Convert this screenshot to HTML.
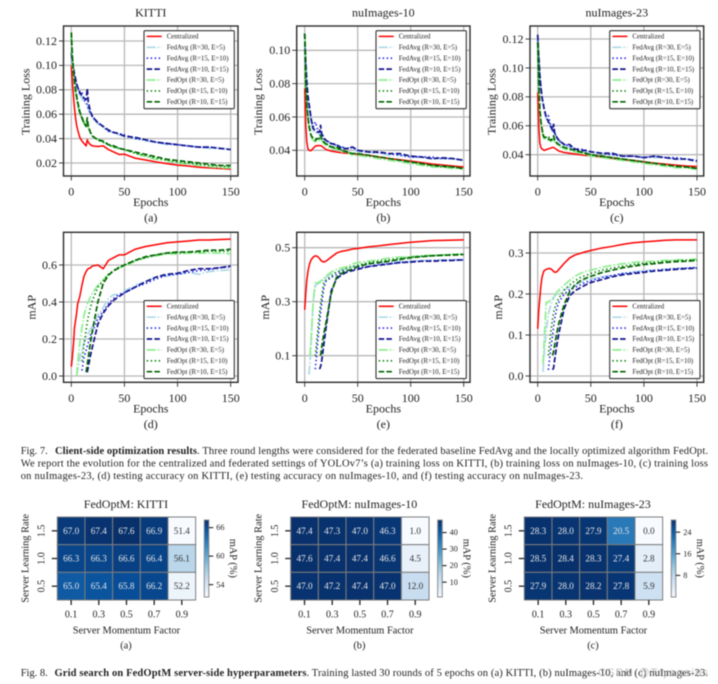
<!DOCTYPE html>
<html>
<head>
<meta charset="utf-8">
<title>Federated optimization results</title>
<style>
html,body{margin:0;padding:0;background:#fff;width:718px;height:684px;overflow:hidden}
svg{display:block;filter:blur(0.4px)}
text{font-family:"Liberation Serif","Noto Serif CJK SC",serif;fill:#222}
</style>
</head>
<body>
<svg id="fig" xmlns="http://www.w3.org/2000/svg" width="718" height="684" viewBox="0 0 718 684">
<rect width="718" height="684" fill="#fff"/>
<g id="charts"></g>
<g id="heatmaps"></g>
<g font-size="10.5">
<text x="20.7" y="454" textLength="27">Fig. 7.</text>
<text x="55" y="454" font-weight="bold" textLength="142">Client-side optimization results</text>
<text x="197" y="454" textLength="511">. Three round lengths were considered for the federated baseline FedAvg and the locally optimized algorithm FedOpt.</text>
<text x="20.7" y="466.5" textLength="687.3">We report the evolution for the centralized and federated settings of YOLOv7’s (a) training loss on KITTI, (b) training loss on nuImages-10, (c) training loss</text>
<text x="20.7" y="478.8" textLength="562.3">on nuImages-23, (d) testing accuracy on KITTI, (e) testing accuracy on nuImages-10, and (f) testing accuracy on nuImages-23.</text>
</g>
<g font-size="10.5">
<text x="20.7" y="676" textLength="27">Fig. 8.</text>
<text x="54.5" y="676" font-weight="bold" textLength="252">Grid search on FedOptM server-side hyperparameters</text>
<text x="306.5" y="676" textLength="401.5">. Training lasted 30 rounds of 5 epochs on (a) KITTI, (b) nuImages-10, and (c) nuImages-23.</text>
<text x="598" y="676" font-size="11" style="fill:#a8a8a8;opacity:.7;font-family:'Liberation Sans',sans-serif" textLength="110">CSDN @Tryagains</text>
</g>
</svg>
<script>
// ---------- shared x axis samples and legend ----------
const epochs = [0,1,2,3,4,5,6,8,10,12,14,15,16,18,20,25,30,35,40,45,50,60,70,80,90,100,110,120,130,140,150];
const seriesLabels = ['Centralized','FedAvg (R=30, E=5)','FedAvg (R=15, E=10)','FedAvg (R=10, E=15)','FedOpt (R=30, E=5)','FedOpt (R=15, E=10)','FedOpt (R=10, E=15)'];
const xTicks = [0,50,100,150];

// ---------- training loss: KITTI ----------
const lossKittiCentral = [.100,.087,.075,.065,.057,.051,.047,.041,.038,.036,.034,.039,.037,.035,.034,.0335,.034,.031,.029,.027,.0272,.024,.0225,.0208,.0195,.0183,.0175,.0165,.016,.0155,.015];
const lossKittiAvg30 = [.112,.100,.095,.090,.086,.083,.080,.076,.073,.070,.068,.067,.064,.060,.057,.052,.049,.046,.045,.043,.042,.040,.038,.037,.035,.035,.034,.033,.032,.032,.031];
const lossKittiAvg15 = [.110,.102,.097,.092,.088,.085,.082,.077,.078,.072,.069,.068,.065,.061,.058,.053,.050,.046,.045,.044,.043,.040,.039,.037,.036,.035,.034,.033,.033,.032,.031];
const lossKittiAvg10 = [.110,.105,.098,.093,.089,.085,.082,.078,.075,.073,.072,.081,.070,.062,.058,.053,.050,.047,.045,.044,.042,.041,.039,.037,.036,.035,.034,.033,.033,.032,.031];
const lossKittiOpt30 = [.127,.105,.093,.085,.078,.073,.068,.060,.056,.052,.050,.052,.049,.045,.042,.039,.037,.035,.033,.032,.031,.028,.025,.023,.022,.020,.019,.018,.017,.016,.016];
const lossKittiOpt15 = [.125,.106,.094,.086,.079,.074,.069,.061,.058,.053,.050,.053,.050,.045,.042,.039,.037,.035,.033,.032,.031,.028,.026,.024,.0225,.021,.020,.019,.018,.0175,.017];
const lossKittiOpt10 = [.127,.107,.095,.087,.080,.075,.070,.062,.057,.053,.050,.057,.050,.045,.042,.039,.038,.035,.034,.032,.031,.029,.027,.025,.023,.022,.021,.020,.019,.018,.018];

// ---------- training loss: nuImages-10 ----------
const lossNu10Central = [.077,.055,.045,.041,.040,.0398,.0398,.0412,.0425,.0428,.0428,.0428,.0425,.0415,.0405,.0395,.039,.0385,.0382,.038,.0375,.037,.036,.035,.0343,.0335,.0327,.0318,.0312,.0306,.030];
const lossNu10Avg30 = [.108,.090,.078,.070,.065,.062,.057,.052,.050,.051,.049,.050,.049,.047,.046,.044,.043,.042,.041,.041,.039,.039,.0385,.037,.037,.036,.036,.035,.035,.035,.034];
const lossNu10Avg15 = [.109,.092,.080,.072,.067,.063,.059,.054,.057,.053,.051,.052,.050,.048,.046,.044,.043,.042,.041,.042,.040,.039,.0385,.038,.037,.036,.036,.036,.035,.035,.034];
const lossNu10Avg10 = [.110,.093,.081,.073,.068,.064,.059,.053,.052,.051,.051,.055,.050,.047,.046,.044,.0435,.041,.041,.042,.040,.039,.039,.038,.038,.0365,.036,.035,.0355,.035,.034];
const lossNu10Opt30 = [.109,.078,.065,.059,.054,.051,.048,.046,.045,.046,.046,.047,.046,.044,.043,.041,.041,.039,.039,.037,.037,.036,.035,.034,.033,.032,.031,.030,.030,.029,.029];
const lossNu10Opt15 = [.110,.079,.066,.060,.055,.052,.049,.047,.047,.047,.047,.048,.047,.045,.044,.042,.041,.040,.039,.038,.038,.037,.036,.035,.034,.033,.032,.031,.030,.030,.029];
const lossNu10Opt10 = [.110,.080,.067,.060,.055,.052,.049,.047,.046,.047,.047,.049,.047,.045,.044,.042,.042,.040,.039,.038,.038,.037,.036,.035,.034,.033,.032,.031,.0305,.030,.029];

// ---------- training loss: nuImages-23 ----------
const lossNu23Central = [.083,.060,.048,.045,.044,.0435,.043,.0435,.044,.0445,.045,.045,.0445,.0435,.0425,.0415,.041,.0405,.040,.0395,.039,.0385,.0375,.0365,.036,.035,.0342,.0335,.0328,.0322,.0318];
const lossNu23Avg30 = [.120,.105,.093,.085,.079,.075,.071,.065,.062,.059,.056,.055,.054,.051,.049,.047,.045,.044,.043,.042,.042,.041,.040,.039,.039,.038,.038,.038,.037,.037,.036];
const lossNu23Avg15 = [.122,.107,.094,.086,.080,.076,.072,.066,.067,.061,.058,.056,.055,.052,.050,.047,.046,.044,.044,.043,.042,.041,.040,.039,.039,.038,.039,.038,.038,.037,.036];
const lossNu23Avg10 = [.123,.108,.095,.087,.080,.076,.072,.066,.063,.060,.057,.061,.055,.052,.050,.047,.047,.044,.043,.043,.042,.041,.041,.039,.039,.038,.039,.038,.037,.037,.0355];
const lossNu23Opt30 = [.116,.088,.070,.062,.057,.053,.051,.051,.050,.049,.050,.051,.049,.047,.046,.044,.043,.042,.041,.040,.039,.038,.037,.036,.035,.034,.033,.032,.031,.031,.030];
const lossNu23Opt15 = [.117,.089,.071,.063,.058,.054,.052,.052,.053,.050,.050,.051,.050,.048,.047,.045,.044,.043,.042,.041,.040,.039,.038,.037,.036,.035,.034,.033,.032,.0315,.0305];
const lossNu23Opt10 = [.118,.090,.072,.063,.058,.054,.052,.052,.051,.050,.051,.053,.050,.048,.047,.045,.044,.043,.042,.041,.040,.039,.038,.037,.036,.035,.034,.033,.032,.0315,.0305];

// ---------- mAP: KITTI ----------
const mapKittiCentral = [.05,.10,.17,.26,.30,.34,.39,.43,.49,.54,.565,.575,.58,.585,.595,.60,.58,.625,.64,.655,.655,.685,.70,.71,.72,.725,.73,.735,.735,.738,.74];
const mapKittiAvg30 = [null,null,null,null,null,.00,.03,.10,.14,.18,.21,.22,.23,.255,.27,.33,.37,.42,.44,.44,.46,.49,.51,.535,.54,.55,.56,.55,.565,.57,.575];
const mapKittiAvg15 = [null,null,null,null,null,null,null,null,.03,.10,.14,.16,.18,.22,.24,.31,.35,.39,.42,.44,.45,.48,.50,.525,.545,.55,.56,.57,.575,.585,.59];
const mapKittiAvg10 = [null,null,null,null,null,null,null,null,null,null,null,.02,.05,.11,.16,.28,.34,.38,.41,.43,.45,.48,.51,.535,.55,.555,.57,.58,.58,.585,.595];
const mapKittiOpt30 = [null,null,null,null,null,.00,.07,.18,.26,.33,.37,.39,.40,.43,.45,.49,.52,.55,.57,.585,.595,.62,.64,.65,.66,.66,.665,.665,.665,.665,.66];
const mapKittiOpt15 = [null,null,null,null,null,null,null,null,.08,.17,.25,.29,.32,.37,.41,.48,.515,.55,.57,.59,.60,.625,.64,.655,.665,.665,.67,.67,.675,.675,.675];
const mapKittiOpt10 = [null,null,null,null,null,null,null,null,null,null,.02,.06,.10,.18,.25,.40,.50,.545,.57,.585,.60,.625,.645,.655,.665,.67,.67,.675,.68,.68,.685];

// ---------- mAP: nuImages-10 ----------
const mapNu10Central = [.27,.33,.38,.41,.43,.445,.455,.465,.47,.468,.46,.455,.45,.447,.45,.465,.48,.487,.49,.495,.497,.503,.507,.512,.516,.52,.523,.526,.527,.528,.529];
const mapNu10Avg30 = [null,null,null,null,.03,.08,.14,.30,.36,.365,.37,.372,.375,.38,.39,.405,.41,.418,.422,.43,.432,.44,.445,.447,.45,.451,.452,.453,.455,.455,.456];
const mapNu10Avg15 = [null,null,null,null,null,null,null,null,.05,.14,.22,.26,.29,.35,.375,.39,.40,.41,.415,.42,.425,.43,.438,.44,.445,.447,.45,.452,.453,.454,.455];
const mapNu10Avg10 = [null,null,null,null,null,null,null,null,null,null,.05,.06,.08,.14,.20,.34,.385,.40,.41,.415,.42,.43,.435,.44,.445,.447,.45,.45,.452,.453,.455];
const mapNu10Opt30 = [null,null,null,null,null,.10,.16,.30,.37,.37,.375,.375,.38,.385,.395,.41,.42,.425,.43,.44,.445,.45,.455,.462,.465,.467,.47,.472,.473,.475,.476];
const mapNu10Opt15 = [null,null,null,null,null,null,null,null,.10,.18,.26,.29,.32,.37,.38,.395,.41,.415,.425,.43,.435,.445,.45,.455,.46,.465,.468,.47,.472,.475,.476];
const mapNu10Opt10 = [null,null,null,null,null,null,null,null,null,null,null,.10,.13,.18,.22,.33,.39,.405,.415,.42,.43,.44,.445,.45,.457,.463,.467,.47,.472,.473,.475];

// ---------- mAP: nuImages-23 ----------
const mapNu23Central = [.115,.16,.19,.22,.24,.25,.257,.26,.262,.262,.258,.255,.253,.254,.26,.275,.288,.295,.299,.303,.306,.312,.316,.321,.325,.327,.329,.331,.332,.332,.332];
const mapNu23Avg30 = [null,null,null,null,null,.01,.05,.11,.15,.17,.185,.19,.195,.20,.205,.21,.217,.222,.228,.232,.236,.242,.245,.25,.254,.257,.258,.26,.262,.263,.264];
const mapNu23Avg15 = [null,null,null,null,null,null,null,null,.015,.06,.10,.12,.14,.165,.18,.20,.21,.216,.222,.228,.232,.24,.245,.25,.252,.255,.258,.26,.262,.263,.265];
const mapNu23Avg10 = [null,null,null,null,null,null,null,null,null,null,.015,.02,.04,.075,.105,.165,.195,.208,.215,.222,.228,.235,.242,.247,.25,.253,.256,.258,.26,.262,.263];
const mapNu23Opt30 = [null,null,null,null,null,.03,.08,.18,.18,.185,.19,.195,.197,.205,.21,.222,.233,.243,.25,.255,.258,.265,.27,.274,.277,.279,.28,.282,.283,.284,.285];
const mapNu23Opt15 = [null,null,null,null,null,null,null,null,.05,.10,.14,.155,.165,.18,.19,.21,.222,.232,.24,.245,.25,.258,.263,.268,.272,.275,.277,.279,.281,.282,.283];
const mapNu23Opt10 = [null,null,null,null,null,null,null,null,null,null,.05,.06,.075,.105,.13,.175,.205,.222,.232,.238,.243,.252,.258,.264,.268,.272,.274,.277,.279,.28,.282];

// ---------- y tick labels ----------
const lossKittiTicks = [.02,.04,.06,.08,.10,.12];
const lossNu10Ticks = [.04,.06,.08,.10];
const lossNu23Ticks = [.04,.06,.08,.10,.12];
const mapKittiTicks = [0,.2,.4,.6];
const mapNu10Ticks = [.1,.3,.5];
const mapNu23Ticks = [0,.1,.2,.3];

// ---------- heatmap values ----------
const gridMomentum = ['0.1','0.3','0.5','0.7','0.9'];
const gridLearningRate = ['1.5','1.0','0.5'];
const gridKitti = [[67.0,67.4,67.6,66.9,51.4],[66.3,66.3,66.6,66.4,56.1],[65.0,65.4,65.8,66.2,52.2]];
const gridNu10 = [[47.4,47.3,47.0,46.3,1.0],[47.6,47.4,47.4,46.6,4.5],[47.0,47.2,47.4,47.0,12.0]];
const gridNu23 = [[28.3,28.0,27.9,20.5,0.0],[28.5,28.4,28.3,27.4,2.8],[27.9,28.0,28.2,27.8,5.9]];
const cbarKittiTicks = [66,60,54];
const cbarNu10Ticks = [40,30,20,10];
const cbarNu23Ticks = [24,16,8];

// ---------- styling & layout (not data) ----------
const seriesColors = ['#ff0000','#add8e6','#1a1ae6','#12128c','#90ee90','#008000','#006400'];
const seriesDash = ['','9 2 1.5 2','1.4 2.6','5.5 2.2','9 2 1.5 2','1.4 2.6','5.5 2.2'];
const seriesWidth = [1.5,1.7,1.6,1.7,1.7,1.6,1.7];
const seriesKeys = ['centralized','fedavg-r30','fedavg-r15','fedavg-r10','fedopt-r30','fedopt-r15','fedopt-r10'];
const columns = [
  {l:63.5,r:238,x0:71.3,x150:230.7,yLab:25.7,mapLab:31.7},
  {l:296.7,r:470,x0:304.7,x150:463.7,yLab:258,mapLab:265},
  {l:530,r:703.7,x0:537.7,x150:697,yLab:491.7,mapLab:498}
];
const NS = 'http://www.w3.org/2000/svg';
function node(parent, tag, attrs, str){
  const el = document.createElementNS(NS, tag);
  for (const k in attrs) el.setAttribute(k, attrs[k]);
  if (str !== undefined) el.textContent = str;
  parent.appendChild(el);
  return el;
}
function label(parent, name, x, y, size, str, anchor, rot){
  const attrs = {x:x, y:y + size*0.32, 'font-size':size, 'text-anchor':anchor||'middle'};
  if (rot) attrs.transform = 'rotate(' + rot + ' ' + x + ' ' + y + ')';
  const el = node(parent, 'text', attrs, str);
  
  
  return el;
}
function segment(parent, name, x1, y1, x2, y2, color, width){
  const el = node(parent, 'line', {x1:x1,y1:y1,x2:x2,y2:y2,stroke:color,'stroke-width':width});
  
  
  return el;
}
function lineChart(opts){
  const root = document.getElementById('charts');
  const g = node(root, 'g', {});
  
  
  const c = columns[opts.col];
  const t = opts.top, b = opts.top + 150;
  const xScale = v => c.x0 + (v/150)*(c.x150 - c.x0);
  const yScale = v => opts.py1 + (v - opts.v1)*(opts.py2 - opts.py1)/(opts.v2 - opts.v1);
  const frameBack = node(g, 'rect', {x:c.l,y:t,width:c.r-c.l,height:150,fill:'#fff'});
  
  
  xTicks.forEach(v => {
    segment(g, 'x-gridline', xScale(v), t, xScale(v), b, '#b8b8b8', 1.3);
    segment(g, 'x-tick', xScale(v), b, xScale(v), b+4.5, '#2b2b2b', 0.9);
    label(g, 'x-tick-label', xScale(v), b+15.7, 12, String(v));
  });
  opts.ticks.forEach(v => {
    segment(g, 'y-gridline', c.l, yScale(v), c.r, yScale(v), '#b8b8b8', 1.3);
    segment(g, 'y-tick', c.l-4.5, yScale(v), c.l, yScale(v), '#2b2b2b', 0.9);
    label(g, 'y-tick-label', c.l-6.5, yScale(v), 12, v.toFixed(opts.digits), 'end');
  });
  opts.series.forEach((vals, i) => {
    let d = '';
    vals.forEach((v, j) => {
      if (v === null) return;
      d += (d ? 'L' : 'M') + xScale(epochs[j]).toFixed(2) + ' ' + yScale(v).toFixed(2);
    });
    const p = node(g, 'path', {d:d,fill:'none',stroke:seriesColors[i],'stroke-width':seriesWidth[i],'stroke-dasharray':seriesDash[i],'stroke-linejoin':'round'});
    
    
  });
  const frame = node(g, 'rect', {x:c.l,y:t,width:c.r-c.l,height:150,fill:'none',stroke:'#2b2b2b','stroke-width':1.4});
  
  
  // legend
  const lw = 90.3, lh = 78;
  const lx = c.r - 3.7 - lw;
  const ly = opts.legendTop ? t + 4.7 : b - 3.7 - lh;
  const lg = node(g, 'g', {});
  
  
  const box = node(lg, 'rect', {x:lx,y:ly,width:lw,height:lh,rx:1,fill:'#fff',stroke:'#333','stroke-width':1.1});
  
  
  seriesLabels.forEach((s, i) => {
    const ry = ly + 5.7 + i*10.9;
    const h = node(lg, 'line', {x1:lx+2.7,y1:ry,x2:lx+17.7,y2:ry,stroke:seriesColors[i],'stroke-width':seriesWidth[i],'stroke-dasharray':seriesDash[i]});
    
    
    label(lg, 'legend-entry', lx+22.7, ry, 6.9, s, 'start');
  });
  if (opts.title) label(g, 'chart-title', (c.l+c.r)/2, 12.7, 12, opts.title);
  label(g, 'x-axis-title', (c.l+c.r)/2, b+26.2, 12, 'Epochs');
  label(g, 'panel-letter', (c.l+c.r)/2, b+41.8, 12, opts.letter);
  const yx = opts.yLabel === 'mAP' ? c.mapLab : c.yLab;
  label(g, 'y-axis-title', yx, t + 75 + (opts.yLabel === 'mAP' ? 0 : 0.7), 12, opts.yLabel, 'middle', -90);
}
lineChart({key:'loss-kitti',col:0,top:26,title:'KITTI',letter:'(a)',yLabel:'Training Loss',v1:.12,py1:41,v2:.02,py2:163,ticks:lossKittiTicks,digits:2,legendTop:true,
  series:[lossKittiCentral,lossKittiAvg30,lossKittiAvg15,lossKittiAvg10,lossKittiOpt30,lossKittiOpt15,lossKittiOpt10]});
lineChart({key:'loss-nuimages-10',col:1,top:26,title:'nuImages-10',letter:'(b)',yLabel:'Training Loss',v1:.10,py1:50.3,v2:.04,py2:150.3,ticks:lossNu10Ticks,digits:2,legendTop:true,
  series:[lossNu10Central,lossNu10Avg30,lossNu10Avg15,lossNu10Avg10,lossNu10Opt30,lossNu10Opt15,lossNu10Opt10]});
lineChart({key:'loss-nuimages-23',col:2,top:26,title:'nuImages-23',letter:'(c)',yLabel:'Training Loss',v1:.12,py1:39,v2:.04,py2:154.7,ticks:lossNu23Ticks,digits:2,legendTop:true,
  series:[lossNu23Central,lossNu23Avg30,lossNu23Avg15,lossNu23Avg10,lossNu23Opt30,lossNu23Opt15,lossNu23Opt10]});
lineChart({key:'map-kitti',col:0,top:232.3,title:'',letter:'(d)',yLabel:'mAP',v1:.6,py1:265,v2:0,py2:376,ticks:mapKittiTicks,digits:1,legendTop:false,
  series:[mapKittiCentral,mapKittiAvg30,mapKittiAvg15,mapKittiAvg10,mapKittiOpt30,mapKittiOpt15,mapKittiOpt10]});
lineChart({key:'map-nuimages-10',col:1,top:232.3,title:'',letter:'(e)',yLabel:'mAP',v1:.5,py1:247.7,v2:.1,py2:355.7,ticks:mapNu10Ticks,digits:1,legendTop:false,
  series:[mapNu10Central,mapNu10Avg30,mapNu10Avg15,mapNu10Avg10,mapNu10Opt30,mapNu10Opt15,mapNu10Opt10]});
lineChart({key:'map-nuimages-23',col:2,top:232.3,title:'',letter:'(f)',yLabel:'mAP',v1:.3,py1:253,v2:0,py2:376,ticks:mapNu23Ticks,digits:1,legendTop:false,
  series:[mapNu23Central,mapNu23Avg30,mapNu23Avg15,mapNu23Avg10,mapNu23Opt30,mapNu23Opt15,mapNu23Opt10]});

// ---------- heatmaps ----------
const bluesStops = [[247,251,255],[222,235,247],[198,219,239],[158,202,225],[107,174,214],[66,146,198],[33,113,181],[8,81,156],[8,48,107]];
function blues(t){
  t = Math.max(0, Math.min(1, t));
  const f = t*(bluesStops.length-1);
  const i = Math.min(Math.floor(f), bluesStops.length-2);
  const u = f - i;
  const c = bluesStops[i].map((a, k) => Math.round(a + (bluesStops[i+1][k]-a)*u));
  return 'rgb(' + c.join(',') + ')';
}
function heatmap(opts){
  const root = document.getElementById('heatmaps');
  const g = node(root, 'g', {});
  
  
  const flat = opts.grid.flat();
  const vmin = Math.min(...flat), vmax = Math.max(...flat);
  const top = 517, size = 27.67, bottom = top + size*3;
  const left = opts.left, right = left + size*5;
  const colX = i => left + (i + 0.5)*size;
  const rowY = i => top + (i + 0.5)*size;
  opts.grid.forEach((row, r) => row.forEach((v, k) => {
    const t = (v - vmin)/(vmax - vmin);
    const cell = node(g, 'rect', {x:left+k*size,y:top+r*size,width:size,height:size,fill:blues(t),stroke:'#7d7d7d','stroke-width':1});
    
    
    const tx = label(g, 'cell-value', colX(k), rowY(r), 9.2, v.toFixed(1));
    tx.style.fill = t > 0.5 ? '#e6e6e6' : '#333';
  }));
  gridMomentum.forEach((s, i) => {
    segment(g, 'x-tick', colX(i), bottom, colX(i), bottom+5, '#222', 1.3);
    label(g, 'x-tick-label', colX(i), 614.3, 10, s);
  });
  gridLearningRate.forEach((s, i) => {
    segment(g, 'y-tick', left-5.5, rowY(i), left, rowY(i), '#222', 1.3);
    label(g, 'y-tick-label', left-16, rowY(i), 10, s, 'middle', -90);
  });
  label(g, 'chart-title', (left+right)/2 - 0.5, 504, 12, opts.title);
  label(g, 'x-axis-title', (left+right)/2, 630.3, 10.4, 'Server Momentum Factor');
  label(g, 'panel-letter', (left+right)/2 - 0.5, 645.3, 10.4, opts.letter);
  label(g, 'y-axis-title', left-32.3, 558.3, 10.4, 'Server Learning Rate', 'middle', -90);
  // colorbar
  const cbx = right + 8.6, cbt = 520, cbb = 597;
  const defs = node(g, 'defs', {});
  const lg = node(defs, 'linearGradient', {id:'grad-'+opts.key,x1:0,y1:1,x2:0,y2:0});
  bluesStops.forEach((s, i) => node(lg, 'stop', {offset:i/(bluesStops.length-1),'stop-color':'rgb('+s.join(',')+')'}));
  const bar = node(g, 'rect', {x:cbx,y:cbt,width:4.6,height:cbb-cbt,fill:'url(#grad-'+opts.key+')',stroke:'#8a8a8a','stroke-width':1});
  
  
  const cbScale = v => cbb - (v - vmin)/(vmax - vmin)*(cbb - cbt);
  opts.cbar.forEach(v => {
    segment(g, 'colorbar-tick', cbx+4.6, cbScale(v), cbx+9, cbScale(v), '#222', 1.1);
    label(g, 'colorbar-tick-label', cbx+12, cbScale(v), 8.2, String(v), 'start');
  });
  label(g, 'colorbar-title', cbx+29, 558.3, 10.4, 'mAP (%)', 'middle', 90);
}
heatmap({key:'kitti',left:57.3,title:'FedOptM: KITTI',letter:'(a)',grid:gridKitti,cbar:cbarKittiTicks});
heatmap({key:'nuimages-10',left:290.7,title:'FedOptM: nuImages-10',letter:'(b)',grid:gridNu10,cbar:cbarNu10Ticks});
heatmap({key:'nuimages-23',left:524.3,title:'FedOptM: nuImages-23',letter:'(c)',grid:gridNu23,cbar:cbarNu23Ticks});
</script>
</body>
</html>
